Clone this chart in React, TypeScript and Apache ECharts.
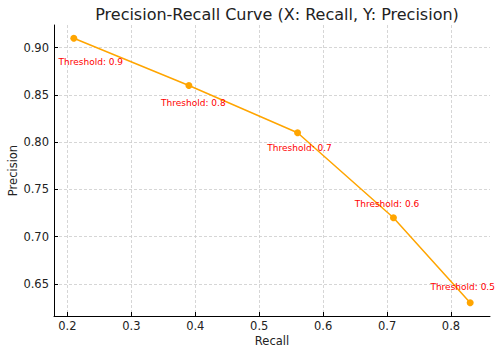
import React, { useEffect, useRef } from "react";
import * as echarts from "echarts";

const recall = [0.21, 0.39, 0.56, 0.71, 0.83];
const precision = [0.91, 0.86, 0.81, 0.72, 0.63];
const thresholds = ["0.9", "0.8", "0.7", "0.6", "0.5"];
const xTicks = [0.2, 0.3, 0.4, 0.5, 0.6, 0.7, 0.8];
const yTicks = [0.65, 0.7, 0.75, 0.8, 0.85, 0.9];
const labelOffsets: [number, number][] = [
  [17, 23.5],
  [4.5, 18],
  [2, 15],
  [-6.5, -14],
  [-7.5, -16],
];

const FONT = "DejaVu Sans";

export default function App() {
  const ref = useRef<HTMLDivElement>(null);
  useEffect(() => {
    if (!ref.current) return;
    const chart = echarts.init(ref.current, undefined, { renderer: "svg" });
    const data = recall.map((r, i) => ({
      value: [r, precision[i]],
      label: {
        show: true,
        formatter: `Threshold: ${thresholds[i]}`,
        position: "inside",
        align: "center",
        verticalAlign: "middle",
        offset: labelOffsets[i],
        color: "#ff0000",
        fontSize: 9,
        fontFamily: FONT,
      },
    }));
    const grid = { show: true, lineStyle: { color: "#cccccc", type: [3, 2], width: 0.8 } };
    chart.setOption({
      animation: false,
      backgroundColor: "#ffffff",
      title: {
        text: "Precision-Recall Curve (X: Recall, Y: Precision)",
        left: 272,
        textAlign: "center",
        top: 1,
        textStyle: { fontFamily: FONT, fontSize: 16, fontWeight: "normal", color: "#222" },
      },
      grid: { left: 54, right: 10, top: 25, bottom: 39, containLabel: false, outerBoundsMode: "none" },
      xAxis: {
        type: "value",
        min: 0.179,
        max: 0.861,
        name: "Recall",
        nameLocation: "middle",
        nameGap: 19,
        nameMoveOverlap: false,
        nameTextStyle: { fontFamily: FONT, fontSize: 11.5, color: "#222" },
        axisLine: { show: true, onZero: false, lineStyle: { color: "#000", width: 1 } },
        axisTick: { show: true, inside: true, length: 4, customValues: xTicks, lineStyle: { color: "#000" } },
        axisLabel: {
          fontFamily: FONT,
          fontSize: 11.5,
          color: "#222",
          margin: 4,
          customValues: xTicks,
          formatter: (v: number) => v.toFixed(1),
        },
        splitLine: grid,
      },
      yAxis: {
        type: "value",
        min: 0.616,
        max: 0.924,
        name: "Precision",
        nameLocation: "middle",
        nameGap: 35,
        nameMoveOverlap: false,
        nameTextStyle: { fontFamily: FONT, fontSize: 11.5, color: "#222" },
        axisLine: { show: true, onZero: false, lineStyle: { color: "#000", width: 1 } },
        axisTick: { show: true, inside: true, length: 4, customValues: yTicks, lineStyle: { color: "#000" } },
        axisLabel: {
          fontFamily: FONT,
          fontSize: 11.5,
          color: "#222",
          margin: 5,
          customValues: yTicks,
          formatter: (v: number) => v.toFixed(2),
        },
        splitLine: grid,
      },
      series: [
        {
          type: "line",
          data,
          symbol: "circle",
          symbolSize: 7,
          lineStyle: { color: "#ffa500", width: 1.5 },
          itemStyle: { color: "#ffa500" },
        },
      ],
    });
    return () => chart.dispose();
  }, []);
  return <div ref={ref} style={{ width: 500, height: 355, position: "absolute", left: 0, top: 0 }} />;
}
